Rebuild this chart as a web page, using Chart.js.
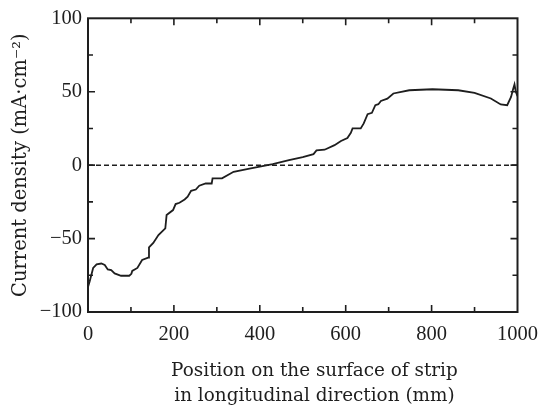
<!DOCTYPE html>
<html>
<head>
<meta charset="utf-8">
<script src="https://cdn.jsdelivr.net/npm/chart.js@4"></script>
<style>
html,body{margin:0;padding:0;background:#fff;}
#wrap{width:548px;height:407px;position:relative;}
</style>
</head>
<body>
<div id="wrap"><canvas id="c" width="548" height="407"></canvas></div>
<script>
// Position along the strip (mm)
const positions = [0,4,12,20,31,39,46,54,62,77,96,101,103,115,126,140,142,152,164,180,183,198,204,213,225,232,240,251,259,274,288,290,312,339,376,430,468,500,525,532,551,574,589,604,612,616,635,642,651,661,669,676,682,697,711,748,802,862,900,938,961,976,985,990,993,996,1000];
// Current density (mA·cm^-2)
const currentDensity = [-83,-79,-70,-67.5,-67,-68,-71,-71.5,-73.7,-75.3,-75.3,-74,-72,-70,-64.6,-63,-56,-53,-47.6,-43,-34,-30.6,-26.5,-25.6,-23.4,-21.5,-17.5,-16.6,-14,-12.5,-12.5,-9,-9,-4.5,-2.3,0.7,3.4,5.5,7.5,10,10.5,13.6,16.5,18.5,22,25,25,28.4,34.7,35.6,40.8,41.5,43.7,45.3,48.8,51,51.7,51,49.2,45.4,41.3,40.8,46.5,52,55,50,47];
const zeroLineX = [0, 1000];
const zeroLineY = [0, 0];
const xTickLabels = [0,200,400,600,800,1000];
const yTickLabels = [-100,-50,0,50,100];
const xMajorTicks = [200,400,600,800];
const xMinorTicks = [100,300,500,700,900];
const yMajorTicks = [-50,0,50];
const yMinorTicks = [-75,-25,25,75];

const TICKFONT = '"Liberation Serif", "DejaVu Serif", serif';
const TITLEFONT = '"DejaVu Serif", "Liberation Serif", serif';
const INK = '#1e1e1e';

const frameTicks = {
  id: 'frameTicks',
  afterDatasetsDraw(chart) {
    const {ctx, chartArea: a, scales: {x, y}} = chart;
    ctx.save();
    ctx.strokeStyle = INK;
    ctx.lineWidth = 2;
    ctx.strokeRect(a.left, a.top, a.right - a.left, a.bottom - a.top);
    ctx.lineWidth = 1.6;
    const drawX = (v, len) => {
      const px = x.getPixelForValue(v);
      ctx.beginPath();
      ctx.moveTo(px, a.bottom); ctx.lineTo(px, a.bottom - len);
      ctx.moveTo(px, a.top); ctx.lineTo(px, a.top + len);
      ctx.stroke();
    };
    const drawY = (v, len) => {
      const py = y.getPixelForValue(v);
      ctx.beginPath();
      ctx.moveTo(a.left, py); ctx.lineTo(a.left + len, py);
      ctx.moveTo(a.right, py); ctx.lineTo(a.right - len, py);
      ctx.stroke();
    };
    xMajorTicks.forEach(v => drawX(v, 7));
    xMinorTicks.forEach(v => drawX(v, 5));
    yMajorTicks.forEach(v => drawY(v, 7));
    yMinorTicks.forEach(v => drawY(v, 5));
    ctx.restore();
  }
};

new Chart(document.getElementById('c'), {
  type: 'scatter',
  data: {
    datasets: [
      {
        data: positions.map((p, i) => ({x: p, y: currentDensity[i]})),
        showLine: true,
        borderColor: INK,
        borderWidth: 1.8,
        pointRadius: 0,
        tension: 0
      },
      {
        data: zeroLineX.map((p, i) => ({x: p, y: zeroLineY[i]})),
        showLine: true,
        borderColor: INK,
        borderWidth: 1.5,
        borderDash: [5, 3],
        pointRadius: 0
      }
    ]
  },
  options: {
    responsive: false,
    animation: false,
    devicePixelRatio: 1,
    layout: {padding: {top: 18, right: 21, left: 0, bottom: 0}},
    plugins: {legend: {display: false}, tooltip: {enabled: false}},
    scales: {
      x: {
        type: 'linear',
        min: 0, max: 1000,
        afterFit(s) { s.height = 95; },
        afterBuildTicks(s) { s.ticks = xTickLabels.map(v => ({value: v})); },
        grid: {display: false, drawTicks: false},
        border: {display: false},
        ticks: {color: INK, font: {family: TICKFONT, size: 20.5}, padding: 10, maxRotation: 0,
                callback: v => String(v)},
        title: {
          display: true,
          text: ['    Position on the surface of strip', '    in longitudinal direction (mm)'],
          color: INK,
          font: {family: TITLEFONT, size: 18.4, lineHeight: 1.36},
          padding: {top: 14, bottom: -2}
        }
      },
      y: {
        type: 'linear',
        min: -100, max: 100,
        afterFit(s) { s.width = 88; },
        afterBuildTicks(s) { s.ticks = yTickLabels.map(v => ({value: v})); },
        grid: {display: false, drawTicks: false},
        border: {display: false},
        ticks: {color: INK, font: {family: TICKFONT, size: 20.5}, padding: 6,
                callback: v => (v < 0 ? '\u2212' + Math.abs(v) : String(v))},
        title: {
          display: true,
          text: 'Current density (mA\u00B7cm\u207B\u00B2)',
          color: INK,
          font: {family: TITLEFONT, size: 19.5},
          padding: {top: 9, bottom: 0}
        }
      }
    }
  },
  plugins: [frameTicks]
});
</script>
</body>
</html>
